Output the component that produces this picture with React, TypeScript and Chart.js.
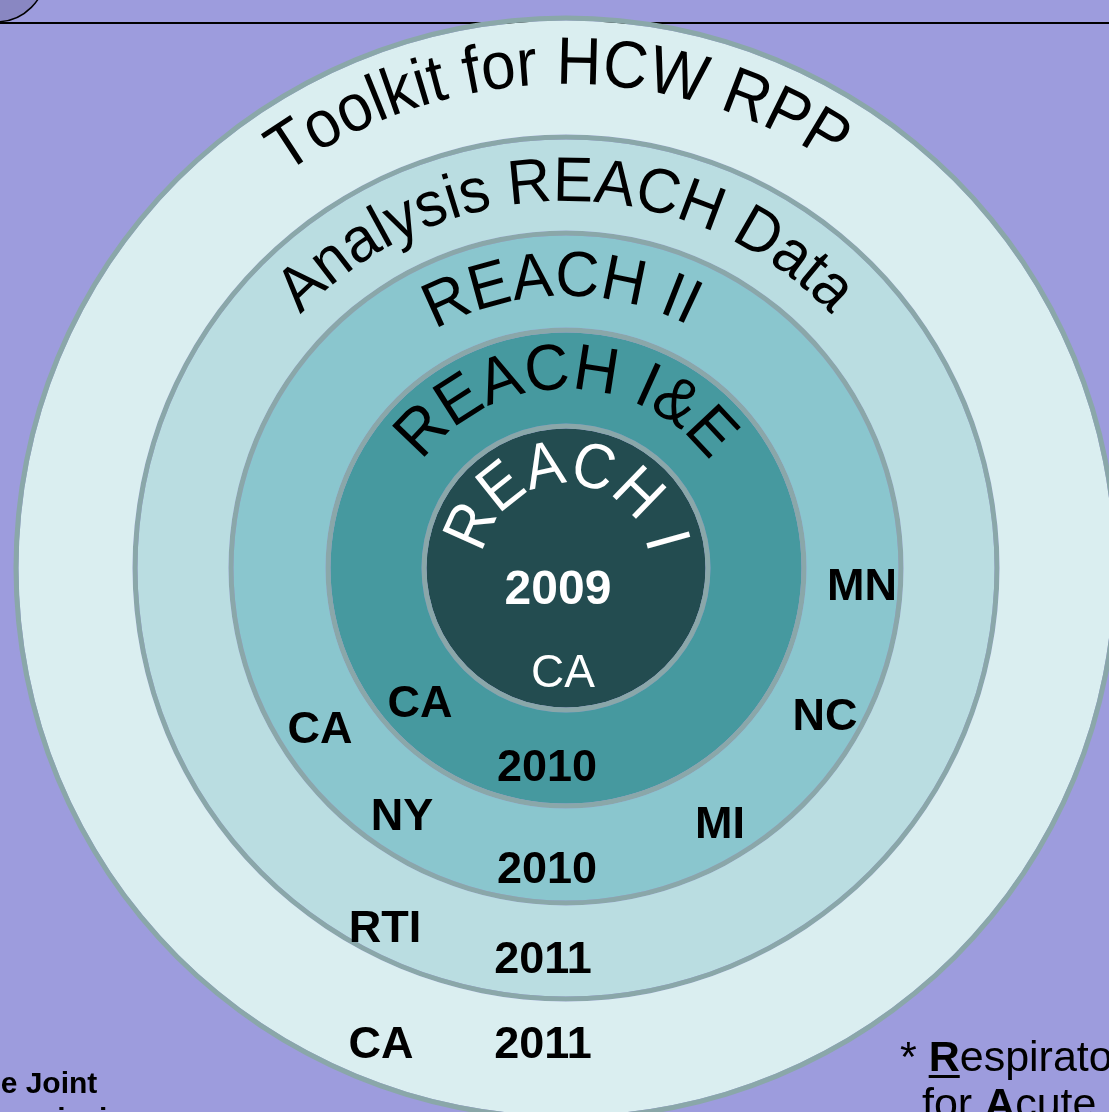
import React, { useEffect, useRef } from "react";
import { Chart, registerables } from "chart.js";

Chart.register(...registerables);

// Rings, outermost first
const ringNames = ["Toolkit for HCW RPP", "Analysis REACH Data", "REACH II", "REACH I&E", "REACH I"];
const ringValues = [1, 1, 1, 1, 1];
const ringThickness = [114, 91, 92, 91, 139.5];
const borderThickness = 5;

// Years and sites written inside each ring
const ringYears = ["2011", "2011", "2010", "2010", "2009"];
const toolkitSites = ["CA"];
const analysisSites = ["RTI"];
const reach2Sites = ["CA", "NY", "MI", "NC", "MN"];
const reachIESites = ["CA"];
const reach1Sites = ["CA"];

const footLeft = ["The Joint", "Commission"];
const footRight1 = ["* ", "R", "espirator ", "E", "valuation"];
const footRight2 = ["for ", "A", "cute ", "C", "are"];

const FONT = '"Liberation Sans", Arial, Helvetica, sans-serif';
const BG = "#9d9cdd";
const BORDER = "#8aa7a9";
const ringColors = ["#daeef0", "#badde1", "#8ac6ce", "#46999f", "#234c50"];

// curved title layout: baseline radius, centre angle (deg), font size, vertical stretch
const arcLayout = [
  { r: 484, a: -1, size: 62, sy: 1.08, color: "#000" },
  { r: 367, a: 0, size: 60, sy: 1.05, color: "#000" },
  { r: 272, a: -1, size: 61, sy: 1.05, color: "#000" },
  { r: 179, a: 0, size: 62, sy: 1.05, color: "#000" },
  { r: 84, a: 0, size: 58, sy: 1.1, color: "#fff" },
];

// label offsets relative to the centre (centre-x, baseline-y)
const yearPos = [
  [-23, 490],
  [-23, 405],
  [-19, 315],
  [-19, 213],
  [-8, 36],
];
const toolkitPos = [[-185, 490]];
const analysisPos = [[-181, 374]];
const reach2Pos = [
  [-246, 175],
  [-164, 262],
  [154, 270],
  [259, 162],
  [296, 32],
];
const reachIEPos = [[-146, 149]];
const reach1Pos = [[-3, 119]];

function drawArcText(ctx: CanvasRenderingContext2D, text: string, cx: number, cy: number, r: number, centerDeg: number, font: string, color: string, sy: number) {
  ctx.save();
  ctx.font = font;
  ctx.fillStyle = color;
  ctx.textAlign = "center";
  ctx.textBaseline = "alphabetic";
  const chars = Array.from(text);
  const widths = chars.map((c) => ctx.measureText(c).width);
  const total = widths.reduce((s, w) => s + w, 0);
  let ang = (centerDeg * Math.PI) / 180 - total / 2 / r;
  chars.forEach((c, i) => {
    const a = ang + widths[i] / 2 / r;
    ctx.save();
    ctx.translate(cx + r * Math.sin(a), cy - r * Math.cos(a));
    ctx.rotate(a);
    ctx.scale(1, sy);
    ctx.fillText(c, 0, 0);
    ctx.restore();
    ang += widths[i] / r;
  });
  ctx.restore();
}

function drawRuns(ctx: CanvasRenderingContext2D, runs: string[], x: number, y: number, size: number) {
  let cx = x;
  runs.forEach((t, i) => {
    const bold = i % 2 === 1;
    ctx.font = `${bold ? "bold " : ""}${size}px ${FONT}`;
    ctx.textAlign = "left";
    ctx.fillText(t, cx, y);
    const w = ctx.measureText(t).width;
    if (bold) {
      ctx.fillRect(cx, y + 4, w, 3);
    }
    cx += w;
  });
}

const decorPlugin = {
  id: "decor",
  beforeDraw(chart: any) {
    const ctx: CanvasRenderingContext2D = chart.ctx;
    ctx.save();
    ctx.fillStyle = BG;
    ctx.fillRect(0, 0, chart.width, chart.height);
    // top rule
    ctx.strokeStyle = "#000";
    ctx.lineWidth = 2;
    ctx.beginPath();
    ctx.moveTo(0, 23);
    ctx.lineTo(chart.width, 23);
    ctx.stroke();
    // corner ellipse
    ctx.beginPath();
    ctx.arc(-4, -28, 50, 0, Math.PI * 2);
    ctx.fillStyle = "#8987c2";
    ctx.fill();
    ctx.lineWidth = 1.5;
    ctx.stroke();
    ctx.restore();
  },
  afterDatasetsDraw(chart: any) {
    const ctx: CanvasRenderingContext2D = chart.ctx;
    const el: any = chart.getDatasetMeta(0).data[0];
    const cx = el.x;
    const cy = el.y;
    ringNames.forEach((name, i) => {
      const L = arcLayout[i];
      drawArcText(ctx, name, cx, cy, L.r, L.a, `${L.size}px ${FONT}`, L.color, L.sy);
    });
    ctx.save();
    ctx.textAlign = "center";
    ctx.textBaseline = "alphabetic";
    // years
    ringYears.forEach((y, i) => {
      const p = yearPos[i];
      ctx.font = i === 4 ? `bold 48px ${FONT}` : `bold 45px ${FONT}`;
      ctx.fillStyle = i === 4 ? "#fff" : "#000";
      ctx.fillText(y, cx + p[0], cy + p[1]);
    });
    const siteGroups: [string[], number[][]][] = [
      [toolkitSites, toolkitPos],
      [analysisSites, analysisPos],
      [reach2Sites, reach2Pos],
      [reachIESites, reachIEPos],
    ];
    ctx.font = `bold 45px ${FONT}`;
    ctx.fillStyle = "#000";
    siteGroups.forEach(([names, pos]) => {
      names.forEach((n, j) => ctx.fillText(n, cx + pos[j][0], cy + pos[j][1]));
    });
    ctx.font = `46px ${FONT}`;
    ctx.fillStyle = "#fff";
    reach1Sites.forEach((n, j) => ctx.fillText(n, cx + reach1Pos[j][0], cy + reach1Pos[j][1]));

    // footnotes
    ctx.fillStyle = "#000";
    ctx.font = `bold 30px ${FONT}`;
    ctx.textAlign = "left";
    ctx.fillText(footLeft[0], -36, 1093);
    ctx.fillText(footLeft[1], -36, 1129);
    drawRuns(ctx, footRight1, 900, 1071, 43);
    drawRuns(ctx, footRight2, 922, 1118, 43);
    ctx.restore();
  },
};

export default function App() {
  const ref = useRef<HTMLCanvasElement>(null);
  useEffect(() => {
    document.body.style.margin = "0";
    document.body.style.background = BG;
    const datasets: any[] = [];
    ringNames.forEach((name, i) => {
      datasets.push({
        label: name + " border",
        data: [ringValues[i]],
        backgroundColor: BORDER,
        borderWidth: 0,
        weight: borderThickness,
      });
      datasets.push({
        label: name,
        data: [ringValues[i]],
        backgroundColor: ringColors[i],
        borderWidth: 0,
        weight: ringThickness[i],
      });
    });
    const totalR = ringThickness.reduce((s, v) => s + v, 0) + borderThickness * ringNames.length;
    const chart = new Chart(ref.current!, {
      type: "pie",
      data: { labels: ["ring"], datasets },
      options: {
        responsive: false,
        animation: false,
        events: [],
        radius: totalR,
        cutout: 0,
        layout: { padding: { left: 23, top: 24 } },
        plugins: { legend: { display: false }, tooltip: { enabled: false } },
      } as any,
      plugins: [decorPlugin],
    });
    return () => chart.destroy();
  }, []);
  return (
    <div style={{ position: "absolute", left: 0, top: 0, width: 1109, height: 1112, overflow: "hidden" }}>
      <canvas ref={ref} width={1109} height={1112} style={{ display: "block" }} />
    </div>
  );
}
